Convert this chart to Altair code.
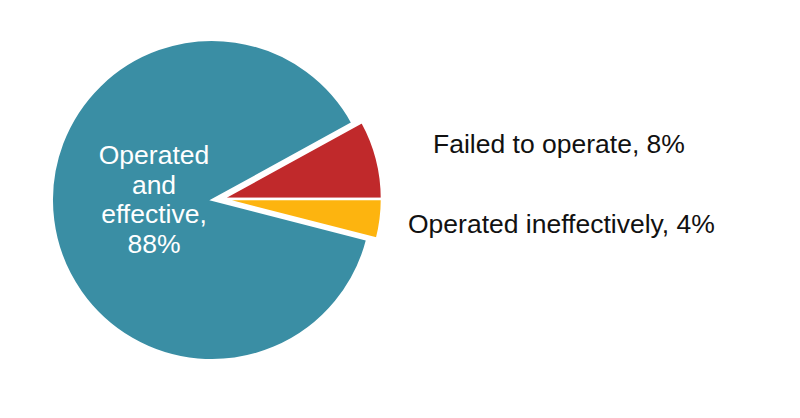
import math
import altair as alt
import pandas as pd

categories = ["Failed to operate", "Operated ineffectively", "Operated and effective"]
values = [8, 4, 88]
colors = ["#C0292B", "#FDB40F", "#3A8EA4"]

df = pd.DataFrame({"category": categories, "value": values, "idx": [0, 1, 2]})

start = math.radians(90 - 360 * values[0] / 100)

base = alt.Chart(df).encode(
    theta=alt.Theta("value:Q", stack=True,
                    scale=alt.Scale(domain=[0, 100], range=[start, start + 2 * math.pi])),
    order=alt.Order("idx:Q"),
    color=alt.Color("category:N", scale=alt.Scale(domain=categories, range=colors), legend=None),
)

big = base.mark_arc(outerRadius=160, stroke="white", strokeWidth=2).encode(
    x=alt.value(204), y=alt.value(192),
    opacity=alt.condition(alt.datum.category == categories[2], alt.value(1), alt.value(0)),
)
small = base.mark_arc(outerRadius=160, stroke="white", strokeWidth=2.5).encode(
    x=alt.value(214), y=alt.value(191),
    opacity=alt.condition(alt.datum.category != categories[2], alt.value(1), alt.value(0)),
)

lab = alt.Chart(df).transform_calculate(
    label="datum.category + ', ' + datum.value + '%'"
)

t_big = lab.transform_filter(alt.datum.category == categories[2]).mark_text(
    font="Liberation Sans", fontSize=26.5, color="white", align="center",
    baseline="alphabetic", lineBreak=" ", lineHeight=29.5,
).encode(text="label:N", x=alt.value(146), y=alt.value(156))

t_fail = lab.transform_filter(alt.datum.category == categories[0]).mark_text(
    font="Liberation Sans", fontSize=26.5, color="#111111", align="left", baseline="alphabetic",
).encode(text="label:N", x=alt.value(425), y=alt.value(145))

t_ineff = lab.transform_filter(alt.datum.category == categories[1]).mark_text(
    font="Liberation Sans", fontSize=26.5, color="#111111", align="left", baseline="alphabetic",
).encode(text="label:N", x=alt.value(400), y=alt.value(225))

chart = alt.layer(big, small, t_big, t_fail, t_ineff).properties(
    width=784, height=402, padding=0
).configure_view(stroke=None)

chart.save("out.html", embed_options={"renderer": "svg", "actions": False})
